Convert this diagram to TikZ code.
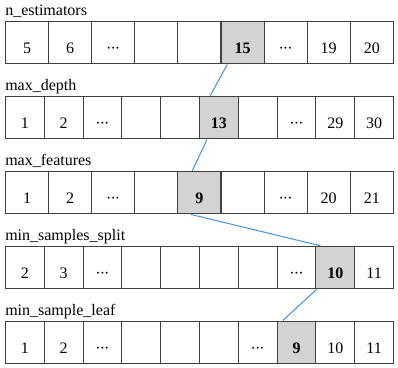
\documentclass[tikz,border=0pt]{standalone}
\usepackage{fontspec}
\setmainfont{Liberation Serif}
\usepackage{tikz}
\usetikzlibrary{calc}
\definecolor{pickc}{HTML}{4A8FDB}
\definecolor{cellc}{HTML}{D3D3D3}
\newcommand{\pick}[1]{\textbf{#1}}
\newcommand{\skipd}{·\kern-.7pt·\kern-.7pt·}

\begin{document}
\begin{tikzpicture}[x=0.75pt, y=-0.75pt, font=\fontsize{12}{14}\selectfont,
  cell/.style={draw=black!75, line width=0.75pt, inner sep=0pt, text depth=7.5pt, text height=24.5pt, anchor=north west},
  hl/.style={cell, fill=cellc},
  wide/.style={minimum width=32.3pt},
  narrow/.style={minimum width=29.1pt},
  lbl/.style={anchor=base west, inner sep=0pt},
  link/.style={pickc, line width=0.75pt}]
  \useasboundingbox (0,0) rectangle (398,367);
  % n_estimators
  \node[lbl] (estlbl) at (5,15.2) {n\_estimators};
  \foreach \s/\v [count=\i] in {cell/5, cell/6, cell/\skipd, cell/, cell/, hl/\pick{15}, cell/\skipd, cell/19, cell/20}
    \node[\s, wide] (est\i) at ({5+43.1*(\i-1)},20.7) {\v};
  % max_depth
  \node[lbl] (deplbl) at (5,90.3) {max\_depth};
  \foreach \s/\v [count=\i] in {cell/1, cell/2, cell/\skipd, cell/, cell/, hl/\pick{13}, cell/, cell/\skipd, cell/29, cell/30}
    \node[\s, narrow] (dep\i) at ({5+38.8*(\i-1)},95.8) {\v};
  % max_features
  \node[lbl] (featlbl) at (5,165.2) {max\_features};
  \foreach \s/\v [count=\i] in {cell/1, cell/2, cell/\skipd, cell/, hl/\pick{9}, cell/, cell/\skipd, cell/20, cell/21}
    \node[\s, wide] (feat\i) at ({5+43.1*(\i-1)},170.7) {\v};
  % min_samples_split
  \node[lbl] (splitlbl) at (5,240.3) {min\_samples\_split};
  \foreach \s/\v [count=\i] in {cell/2, cell/3, cell/\skipd, cell/, cell/, cell/, cell/, cell/\skipd, hl/\pick{10}, cell/11}
    \node[\s, narrow] (split\i) at ({5+38.8*(\i-1)},245.8) {\v};
  % min_sample_leaf
  \node[lbl] (leaflbl) at (5,315) {min\_sample\_leaf};
  \foreach \s/\v [count=\i] in {cell/1, cell/2, cell/\skipd, cell/, cell/, cell/, cell/\skipd, hl/\pick{9}, cell/10, cell/11}
    \node[\s, narrow] (leaf\i) at ({5+38.8*(\i-1)},320.5) {\v};
  % chosen values
  \draw[link] ($(est6.south west)!.155!(est6.south east)$) -- ($(dep6.north west)!.28!(dep6.north east)$);
  \draw[link] ($(dep6.south west)!.2!(dep6.south east)$) -- ($(feat5.north west)!.34!(feat5.north east)$);
  \draw[link] ($(feat5.south west)!.3!(feat5.south east)$) -- ($(split9.north west)!.13!(split9.north east)$);
  \draw[link] ($(split9.south west)!.03!(split9.south east)$) -- ($(leaf8.north west)!.155!(leaf8.north east)$);
\end{tikzpicture}
\end{document}
